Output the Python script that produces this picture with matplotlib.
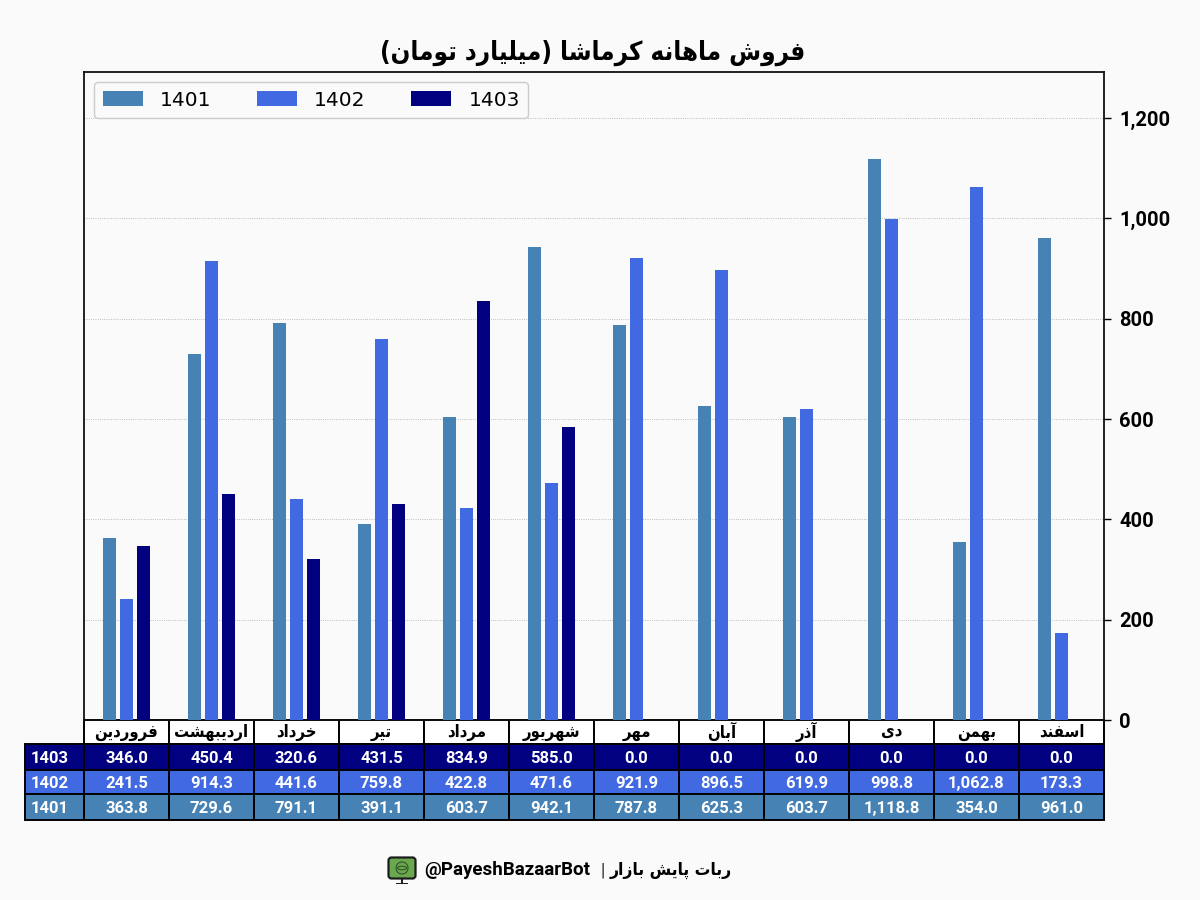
import matplotlib
matplotlib.use('Agg')
import matplotlib.pyplot as plt
from matplotlib.patches import FancyBboxPatch, Circle, Rectangle, Ellipse
from matplotlib.ticker import FuncFormatter
import numpy as np

# داده ها
months = ['فروردین', 'اردیبهشت', 'خرداد', 'تیر', 'مرداد', 'شهریور',
          'مهر', 'آبان', 'آذر', 'دی', 'بهمن', 'اسفند']
years = ['1401', '1402', '1403']
sales_1401 = [363.8, 729.6, 791.1, 391.1, 603.7, 942.1, 787.8, 625.3, 603.7, 1118.8, 354.0, 961.0]
sales_1402 = [241.5, 914.3, 441.6, 759.8, 422.8, 471.6, 921.9, 896.5, 619.9, 998.8, 1062.8, 173.3]
sales_1403 = [346.0, 450.4, 320.6, 431.5, 834.9, 585.0, 0.0, 0.0, 0.0, 0.0, 0.0, 0.0]
y_ticks = [0, 200, 400, 600, 800, 1000, 1200]
title_text = 'فروش ماهانه کرماشا (میلیارد تومان)'
footer_fa = 'ربات پایش بازار'
footer_bot = '@PayeshBazaarBot'

colors = ['steelblue', 'royalblue', 'navy']
BG = '#FAFAFB'

# matplotlib حروف فارسی را نمی چسباند، پس شکل حروف را خودمان انتخاب می کنیم
FORMS = {
    'ا': (0xFE8D, 0xFE8E), 'آ': (0xFE81, 0xFE82),
    'د': (0xFEA9, 0xFEAA), 'ذ': (0xFEAB, 0xFEAC),
    'ر': (0xFEAD, 0xFEAE), 'ز': (0xFEAF, 0xFEB0), 'و': (0xFEED, 0xFEEE),
    'ب': (0xFE8F, 0xFE90, 0xFE91, 0xFE92), 'پ': (0xFB56, 0xFB57, 0xFB58, 0xFB59),
    'ت': (0xFE95, 0xFE96, 0xFE97, 0xFE98), 'خ': (0xFEA5, 0xFEA6, 0xFEA7, 0xFEA8),
    'س': (0xFEB1, 0xFEB2, 0xFEB3, 0xFEB4), 'ش': (0xFEB5, 0xFEB6, 0xFEB7, 0xFEB8),
    'ف': (0xFED1, 0xFED2, 0xFED3, 0xFED4), 'ک': (0xFB8E, 0xFB8F, 0xFB90, 0xFB91),
    'ل': (0xFEDD, 0xFEDE, 0xFEDF, 0xFEE0), 'م': (0xFEE1, 0xFEE2, 0xFEE3, 0xFEE4),
    'ن': (0xFEE5, 0xFEE6, 0xFEE7, 0xFEE8), 'ه': (0xFEE9, 0xFEEA, 0xFEEB, 0xFEEC),
    'ی': (0xFBFC, 0xFBFD, 0xFBFE, 0xFBFF),
}


def fa(text):
    out = []
    for i, ch in enumerate(text):
        if ch not in FORMS:
            out.append({'(': ')', ')': '('}.get(ch, ch))
            continue
        prev = text[i - 1] if i > 0 else ''
        nxt = text[i + 1] if i + 1 < len(text) else ''
        joins_prev = prev in FORMS and len(FORMS[prev]) == 4
        joins_next = nxt in FORMS and len(FORMS[ch]) == 4
        if joins_prev and joins_next:
            out.append(chr(FORMS[ch][3]))
        elif joins_prev:
            out.append(chr(FORMS[ch][1]))
        elif joins_next:
            out.append(chr(FORMS[ch][2]))
        else:
            out.append(chr(FORMS[ch][0]))
    return ''.join(reversed(out))


plt.rcParams['font.family'] = ['Roboto', 'DejaVu Sans']

fig = plt.figure(figsize=(12, 9), dpi=100, facecolor=BG)
ax = fig.add_axes([84 / 1200, 1 - 720 / 900, 1020 / 1200, 648 / 900], facecolor=BG)

x = np.arange(len(months))
bar_w = 0.155
ax.bar(x - 0.2, sales_1401, bar_w, color=colors[0], label=years[0], zorder=3)
ax.bar(x, sales_1402, bar_w, color=colors[1], label=years[1], zorder=3)
ax.bar(x + 0.2, sales_1403, bar_w, color=colors[2], label=years[2], zorder=3)

ax.set_xlim(-0.5, 11.5)
ax.set_ylim(0, 1292)
ax.set_xticks([])
ax.set_yticks(y_ticks)
ax.yaxis.tick_right()
ax.yaxis.set_major_formatter(FuncFormatter(lambda v, p: f'{v:,.0f}'))
ax.tick_params(axis='y', labelsize=14.5, length=5, width=1, pad=6)
for lab in ax.get_yticklabels():
    lab.set_fontweight('bold')
ax.grid(axis='y', linestyle=':', linewidth=0.6, color='#aaaaaa', zorder=0)
for s in ax.spines.values():
    s.set_linewidth(1.3)
    s.set_color('#111111')

ax.legend(loc='upper left', ncol=3, prop={'family': 'DejaVu Sans', 'size': 14.5},
          bbox_to_anchor=(0.0, 1.0), borderaxespad=0.5, columnspacing=2.25,
          borderpad=0.42, handlelength=2.0, handletextpad=0.85,
          facecolor=BG, edgecolor='#cccccc', framealpha=1)

ax.text(0.499, 1.010, fa(title_text), transform=ax.transAxes, ha='center', va='bottom',
        fontsize=18.5, fontweight='bold', family='DejaVu Sans', stretch='condensed')

# جدول پایین نمودار
rows = [years[2]], [years[1]], [years[0]]
series = [sales_1403, sales_1402, sales_1401]
row_colors = [colors[2], colors[1], colors[0]]
cell_text = [[lab[0]] + [f'{v:,.1f}' for v in vals] for lab, vals in zip(rows, series)]
cell_cols = [[c] * 13 for c in row_colors]
left_px, right_px = 25, 1104
tab = ax.table(cellText=cell_text, cellColours=cell_cols,
               colLabels=[''] + [fa(m) for m in months],
               colColours=[BG] + ['white'] * 12,
               colWidths=[59 / 1079] + [85 / 1079] * 12,
               cellLoc='center',
               bbox=[(left_px - 84) / 1020, -100 / 648, (right_px - left_px) / 1020, 100 / 648])
tab.auto_set_font_size(False)
row_heights = [24, 26, 24, 26]
for (r, c), cell in tab.get_celld().items():
    cell.set_height(row_heights[r] / 100)
    cell.set_linewidth(1.4)
    cell.set_edgecolor('black')
    t = cell.get_text()
    if r == 0:
        t.set_fontsize(12)
        t.set_fontfamily('DejaVu Sans')
        t.set_fontweight('bold')
        t.set_fontstretch('condensed')
        t.set_color('black')
    else:
        t.set_fontsize(12)
        t.set_fontweight('bold')
        t.set_color('white')
        t.set_verticalalignment('center_baseline')
    if c == 0 and r > 0:
        t.set_horizontalalignment('left')
tab[0, 0].set_visible(False)

# فوتر
fig.text(732 / 1200, 1 - 870 / 900, fa(footer_fa), ha='right', va='center', fontsize=12.5,
         fontweight='bold', family='DejaVu Sans', stretch='condensed')
fig.text(603 / 1200, 1 - 870 / 900, '|', ha='center', va='center', fontsize=13, color='#222222')
fig.text(590 / 1200, 1 - 870 / 900, footer_bot, ha='right', va='center', fontsize=13.5,
         fontweight='bold')

# آیکون ربات
ic = fig.add_axes([385 / 1200, 1 - 887 / 900, 34 / 1200, 33 / 900])
ic.set_xlim(0, 34)
ic.set_ylim(33, 0)
ic.axis('off')
ic.add_patch(FancyBboxPatch((3.5, 3.5), 27, 21, boxstyle='round,pad=0,rounding_size=3',
                            fc='#6aa84f', ec='#1c1c1c', lw=1.6))
ic.add_patch(Circle((17, 14), 6, fc='none', ec='#2c4a20', lw=0.7))
ic.add_patch(Ellipse((17, 14), 9, 3.5, fc='none', ec='#2c4a20', lw=0.7))
ic.add_patch(Rectangle((16.3, 24.5), 1.4, 4, fc='#1c1c1c', ec='none'))
ic.add_patch(Rectangle((11, 28.5), 12, 1.2, fc='#1c1c1c', ec='none'))

fig.savefig('out.png', dpi=100, facecolor=BG)
